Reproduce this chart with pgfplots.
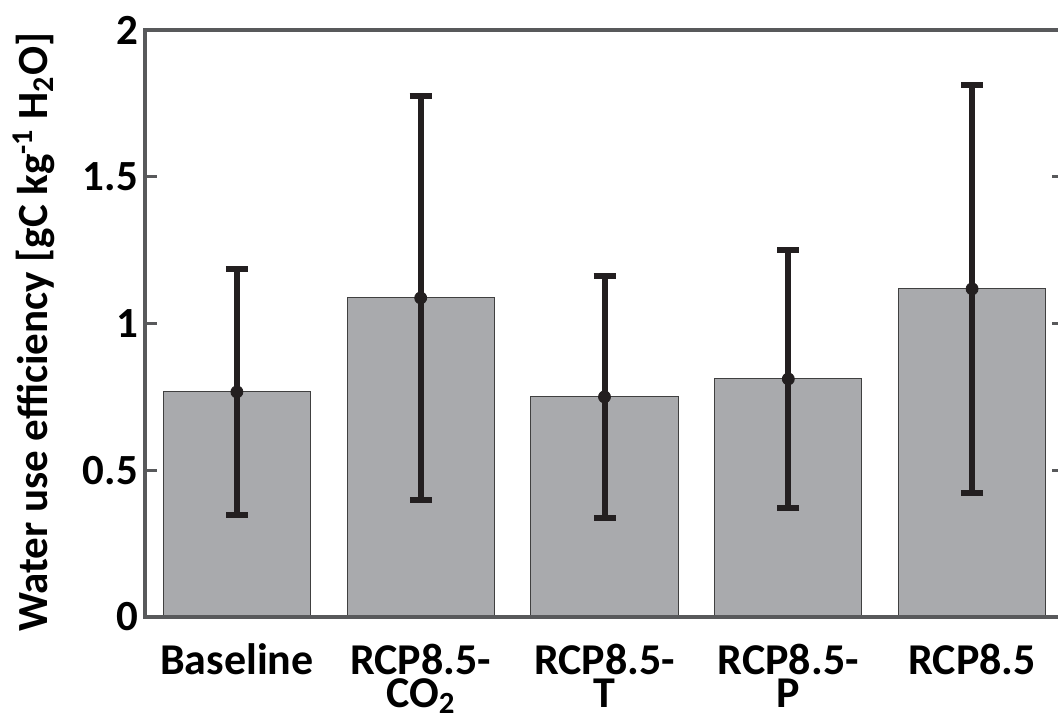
\documentclass[border=0pt]{standalone}
\usepackage{pgfplots}
\pgfplotsset{compat=1.18}
\usepackage{fontspec}
\setmainfont{Carlito}

\definecolor{barfill}{HTML}{A9AAAD}
\definecolor{axisgray}{HTML}{58595B}
\definecolor{errblack}{HTML}{231F20}

% mean and symmetric error
\pgfplotstableread{
x  y      err
0  0.767  0.418
1  1.087  0.687
2  0.750  0.412
3  0.811  0.438
4  1.118  0.694
}\wuedata

\begin{document}
\begin{tikzpicture}
  \begin{axis}[
      at={(0,0)}, anchor=south west,
      scale only axis,
      width=459.5pt, height=293.5pt,
      xmin=-0.5, xmax=4.5,
      ymin=0, ymax=2,
      axis on top,
      xtick={0,1,2,3,4},
      xticklabels={Baseline, RCP8.5-\\CO\textsubscript{2}, RCP8.5-\\T, RCP8.5-\\P, RCP8.5},
      ytick={0,0.5,1,1.5,2},
      yticklabels={0,0.5,1,1.5,2},
      xtick style={draw=none},
      axis line style={axisgray, line width=2pt},
      ytick style={axisgray, line width=1.5pt},
      major tick length=6pt,
      tick align=inside,
      xticklabel style={font=\fontsize{22}{16.5}\selectfont\bfseries, align=center, anchor=north, yshift=-10pt},
      yticklabel style={font=\fontsize{21.5}{21.5}\selectfont\bfseries},
      ylabel={Water use efficiency [gC kg\textsuperscript{-1} H\textsubscript{2}O]},
      ylabel style={font=\fontsize{21.5}{21.5}\selectfont\bfseries,
        at={(axis description cs:-0.121,0.485)}, anchor=center},
    ]
    \addplot[ybar, bar width=0.8, fill=barfill, draw=black!75, line width=0.5pt]
      table[x=x, y=y] {\wuedata};
    \addplot[only marks, mark=*, mark size=3pt, errblack,
      error bars/.cd, y dir=both, y explicit, error mark=|,
      error bar style={line width=3pt, errblack},
      error mark options={line width=3pt, mark size=5.5pt, errblack}]
      table[x=x, y=y, y error=err] {\wuedata};
  \end{axis}
  \pgfresetboundingbox
  \path (-72.5pt,-51pt) rectangle (456.5pt,308.5pt);
\end{tikzpicture}
\end{document}
